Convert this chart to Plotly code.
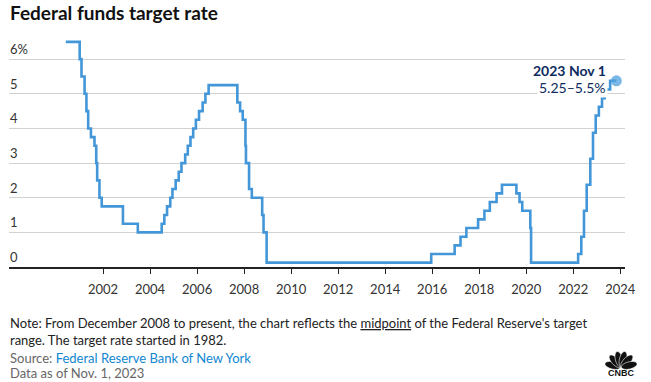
import plotly.graph_objects as go
import math

# ---- data ----
dates = ["2000-06-01", "2001-01-03", "2001-01-31", "2001-03-20", "2001-04-18", "2001-05-15",
         "2001-06-27", "2001-08-21", "2001-09-17", "2001-10-02", "2001-11-06", "2001-12-11",
         "2002-11-06", "2003-06-25", "2004-06-30", "2004-08-10", "2004-09-21", "2004-11-10",
         "2004-12-14", "2005-02-02", "2005-03-22", "2005-05-03", "2005-06-30", "2005-08-09",
         "2005-09-20", "2005-11-01", "2005-12-13", "2006-01-31", "2006-03-28", "2006-05-10",
         "2006-06-29", "2007-09-18", "2007-10-31", "2007-12-11", "2008-01-22", "2008-01-30",
         "2008-03-18", "2008-04-30", "2008-10-08", "2008-10-29", "2008-12-16", "2015-12-17",
         "2016-12-15", "2017-03-16", "2017-06-15", "2017-12-14", "2018-03-22", "2018-06-14",
         "2018-09-27", "2018-12-20", "2019-08-01", "2019-09-19", "2019-10-31", "2020-03-04",
         "2020-03-16", "2022-03-17", "2022-05-05", "2022-06-16", "2022-07-28", "2022-09-22",
         "2022-11-03", "2022-12-15", "2023-02-02", "2023-03-23", "2023-05-04", "2023-07-27",
         "2023-11-01"]
rates = [6.5, 6.0, 5.5, 5.0, 4.5, 4.0,
         3.75, 3.5, 3.0, 2.5, 2.0, 1.75,
         1.25, 1.0, 1.25, 1.5, 1.75, 2.0,
         2.25, 2.5, 2.75, 3.0, 3.25, 3.5,
         3.75, 4.0, 4.25, 4.5, 4.75, 5.0,
         5.25, 4.75, 4.5, 4.25, 3.5, 3.0,
         2.25, 2.0, 1.5, 1.0, 0.125, 0.375,
         0.625, 0.875, 1.125, 1.375, 1.625, 1.875,
         2.125, 2.375, 2.125, 1.875, 1.625, 1.125,
         0.125, 0.375, 0.875, 1.625, 2.375, 3.125,
         3.875, 4.375, 4.625, 4.875, 5.125, 5.375,
         5.375]
y_ticks = [0, 1, 2, 3, 4, 5, 6]
y_tick_labels = ["0", "1", "2", "3", "4", "5", "6%"]
x_tick_years = [2002, 2004, 2006, 2008, 2010, 2012, 2014, 2016, 2018, 2020, 2022, 2024]
last_date_label = "2023 Nov 1"
last_range_label = "5.25–5.5%"

FONT = "Lato"
W, H = 651, 382
L, R, T, B = 9, 26, 28, 115
PW, PH = W - L - R, H - T - B

def px(x):
    return (x - L) / PW

def py(y):
    return (H - B - y) / PH

fig = go.Figure()
fig.add_trace(go.Scatter(x=dates, y=rates, mode="lines", line_shape="hv",
                         line=dict(color="#4397d8", width=2.6), hoverinfo="skip"))
fig.add_trace(go.Scatter(x=[dates[-1]], y=[rates[-1]], mode="markers",
                         marker=dict(color="rgba(80,160,222,0.75)", size=11), hoverinfo="skip"))

annotations = []
for v, t in zip(y_ticks, y_tick_labels):
    annotations.append(dict(xref="paper", yref="y", x=0, y=v, text=t, showarrow=False,
                            xanchor="left", yanchor="bottom", yshift=1, borderpad=0,
                            font=dict(family=FONT, size=13, color="#333")))

annotations.append(dict(xref="x", yref="y", x=dates[-1], y=rates[-1],
                        text="<b>" + last_date_label + "</b>", showarrow=False,
                        xanchor="right", yanchor="middle", xshift=-8, yshift=10,
                        font=dict(family=FONT, size=14, color="#0d2b5e")))
annotations.append(dict(xref="x", yref="y", x=dates[-1], y=rates[-1],
                        text=last_range_label, showarrow=False, bgcolor="white",
                        xanchor="right", yanchor="middle", xshift=-8, yshift=-7,
                        font=dict(family=FONT, size=14, color="#0d2b5e")))

# title
annotations.append(dict(xref="paper", yref="paper", x=px(9), y=py(12), text="<b>Federal funds target rate</b>",
                        showarrow=False, xanchor="left", yanchor="middle", borderpad=0,
                        font=dict(family=FONT, size=19, color="#111")))
# footer
annotations.append(dict(xref="paper", yref="paper", x=px(9), y=py(331), showarrow=False,
                        xanchor="left", yanchor="middle", align="left", borderpad=0,
                        text="Note: From December 2008 to present, the chart reflects the <u>midpoint</u> of the Federal Reserve's target<br>range. The target rate started in 1982.",
                        font=dict(family=FONT, size=13, color="#222")))
annotations.append(dict(xref="paper", yref="paper", x=px(9), y=py(357.5), showarrow=False,
                        xanchor="left", yanchor="middle", borderpad=0,
                        text="Source: <span style='color:#1186d0'>Federal Reserve Bank of New York</span>",
                        font=dict(family=FONT, size=13, color="#666")))
annotations.append(dict(xref="paper", yref="paper", x=px(9), y=py(373), showarrow=False,
                        xanchor="left", yanchor="middle", borderpad=0,
                        text="Data as of Nov. 1, 2023",
                        font=dict(family=FONT, size=13, color="#666")))
# CNBC logo text
annotations.append(dict(xref="paper", yref="paper", x=px(621), y=py(372.5), showarrow=False,
                        xanchor="center", yanchor="middle", borderpad=0,
                        text="<b>CNBC</b>", font=dict(family="Liberation Sans", size=9, color="#111")))

shapes = []
# peacock feathers
bx, by = 621, 367.5
for ang in [166, 133, 104, 76, 47, 14]:
    a = math.radians(ang)
    ux, uy = math.cos(a), -math.sin(a)
    vx, vy = -uy, ux
    cx, cy = bx + ux * 8.5, by + uy * 8.5
    pts = []
    for k in range(24):
        t = 2 * math.pi * k / 24
        ex = cx + ux * 8.0 * math.cos(t) + vx * 3.6 * math.sin(t)
        ey = cy + uy * 8.0 * math.cos(t) + vy * 3.6 * math.sin(t)
        pts.append((px(ex), py(ey)))
    path = "M" + " L".join(f"{p[0]:.5f},{p[1]:.5f}" for p in pts) + " Z"
    shapes.append(dict(type="path", xref="paper", yref="paper", path=path,
                       fillcolor="#111", line=dict(width=0.6, color="white")))

fig.update_layout(
    width=W, height=H,
    margin=dict(l=L, r=R, t=T, b=B),
    paper_bgcolor="white", plot_bgcolor="white",
    showlegend=False,
    xaxis=dict(type="date", range=["1998-01-01", "2024-03-14"],
               tickvals=[f"{y}-01-01" for y in x_tick_years],
               ticktext=[str(y) for y in x_tick_years],
               showgrid=False, zeroline=False, showline=True, linecolor="#222", linewidth=1.5,
               ticks="outside", ticklen=5, tickwidth=1, tickcolor="#222", ticklabelstandoff=5,
               tickfont=dict(family=FONT, size=13, color="#333")),
    yaxis=dict(range=[0, 6.9], tickvals=y_ticks[1:], showticklabels=False,
               showgrid=True, gridcolor="#d2d2d2", gridwidth=1, zeroline=False, showline=False),
    annotations=annotations,
    shapes=shapes,
)

fig.write_html("out.html", config={"displayModeBar": False},
               post_script="document.body.style.margin='0';document.body.style.padding='0';")
